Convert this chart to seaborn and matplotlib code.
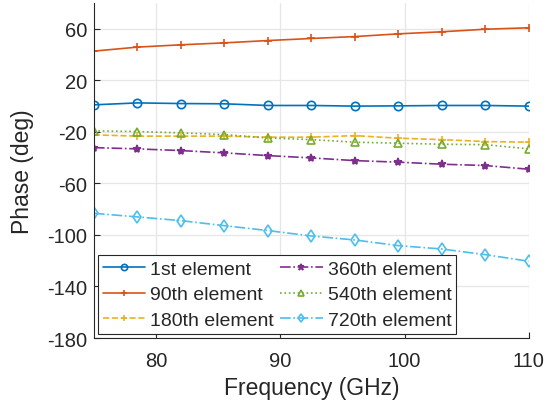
import numpy as np
import pandas as pd
import matplotlib
matplotlib.use("Agg")
import matplotlib.pyplot as plt
import seaborn as sns

freq = [75, 78.5, 82, 85.5, 89, 92.5, 96, 99.5, 103, 106.5, 110]
el_1 = [1.0, 2.5, 2.0, 1.8, 0.5, 0.5, 0.0, 0.2, 0.5, 0.5, 0.0]
el_90 = [42.7, 45.8, 47.6, 49.1, 50.9, 52.5, 54.0, 56.1, 57.7, 59.7, 60.8]
el_180 = [-22.3, -23.3, -23.3, -23.3, -24.1, -24.1, -22.9, -24.9, -26.0, -27.5, -28.0]
el_360 = [-32.2, -33.2, -34.5, -36.3, -38.4, -40.2, -42.3, -43.5, -45.1, -46.1, -49.0]
el_540 = [-19.2, -19.7, -20.8, -22.1, -24.7, -26.0, -28.0, -28.8, -29.6, -29.9, -33.2]
el_720 = [-83.2, -86.0, -88.9, -92.8, -96.6, -100.8, -103.9, -108.3, -110.9, -115.3, -120.4]
labels = ["1st element", "90th element", "180th element",
          "360th element", "540th element", "720th element"]
xticks = [80, 90, 100, 110]
yticks = [60, 20, -20, -60, -100, -140, -180]

series = [el_1, el_90, el_180, el_360, el_540, el_720]
colors = ["#0072BD", "#D95319", "#EDB120", "#7E2F8E", "#77AC30", "#4DBEEE"]
styles = ["-", "-", "--", "-.", ":", "-."]
markers = ["o", "+", "+", "*", "^", "d"]
hollow = [True, False, False, False, True, True]

sns.set_theme(style="whitegrid")
plt.rcParams['font.family'] = ['Liberation Sans', 'DejaVu Sans']
plt.rcParams['axes.unicode_minus'] = False

fig = plt.figure(figsize=(5.59, 4.06), dpi=100)
ax = fig.add_axes([0.168, 0.165, 0.778, 0.825])

for vals, lab, c, ls, m, h in zip(series, labels, colors, styles, markers, hollow):
    df = pd.DataFrame({"f": freq, "v": vals})
    kw = dict(marker=m, markersize=6, markeredgewidth=1.2,
              color=c, linestyle=ls, linewidth=1.2, label=lab)
    kw["markerfacecolor"] = "none" if h else c
    kw["markeredgecolor"] = c
    sns.lineplot(data=df, x="f", y="v", ax=ax, **kw)

ax.set_xlim(75, 110)
ax.set_ylim(-180, 80)
ax.set_xticks(xticks)
ax.set_yticks(yticks)
ax.grid(True, color="#e6e6e6", linewidth=0.9)
ax.set_facecolor("white")
for s in ["top", "right"]:
    ax.spines[s].set_visible(False)
for s in ["left", "bottom"]:
    ax.spines[s].set_visible(True)
    ax.spines[s].set_color("#262626")
    ax.spines[s].set_linewidth(0.8)
ax.tick_params(axis="both", direction="in", length=4, width=0.8, color="#262626",
               labelsize=14.5, labelcolor="#262626", left=True, bottom=True)
ax.tick_params(axis="x", pad=9)
ax.tick_params(axis="y", pad=5)
ax.set_xlabel("Frequency (GHz)", fontsize=16.5, color="#262626", labelpad=5)
ax.set_ylabel("Phase (deg)", fontsize=16.5, color="#262626", labelpad=9)

leg = ax.legend(loc="lower left", ncol=2, fontsize=14, frameon=True,
                borderaxespad=0.2, handlelength=2.2, columnspacing=0.3,
                labelspacing=0.42, handletextpad=0.25, borderpad=0.25,
                fancybox=False, framealpha=1, markerscale=0.75)
leg.get_frame().set_edgecolor("#262626")
leg.get_frame().set_linewidth(0.8)

fig.savefig("out.png", dpi=100)
